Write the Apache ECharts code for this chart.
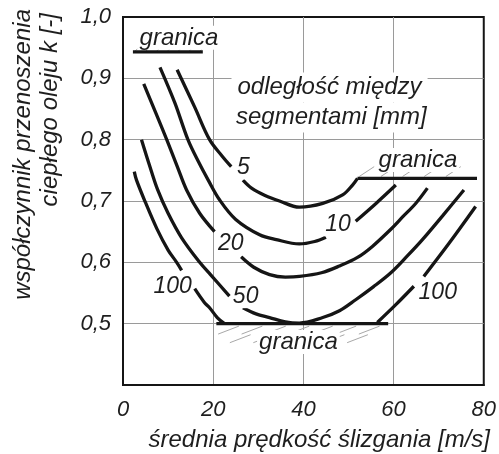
<!DOCTYPE html>
<html>
<head>
<meta charset="utf-8">
<script src="https://cdn.jsdelivr.net/npm/echarts@6/dist/echarts.min.js"></script>
<style>
  html, body { margin: 0; padding: 0; background: #fff; }
  #chart { width: 499px; height: 454px; }
</style>
</head>
<body>
<div id="chart"></div>
<script>
// Heat-transfer coefficient of oil vs. mean sliding speed, per segment spacing
const xTicks = [0, 20, 40, 60, 80];
const yTicks = [0.4, 0.5, 0.6, 0.7, 0.8, 0.9, 1.0];

// Each curve is split into pieces where its label sits in the line
const curve5 = [
  [[12.0, 0.914], [15.9, 0.853], [19.2, 0.800], [22.0, 0.773], [24.0, 0.756]],
  [[26.6, 0.734], [28.5, 0.721], [31.5, 0.709], [34.7, 0.700], [39.1, 0.690], [44.3, 0.696], [48.7, 0.710], [50.9, 0.726], [52.0, 0.737]]
];
const curve10 = [
  [[8.2, 0.918], [11.5, 0.860], [14.4, 0.800], [16.8, 0.763], [18.9, 0.734], [21.4, 0.702], [25.0, 0.670], [30.3, 0.645], [34.0, 0.637], [39.1, 0.630], [42.5, 0.634], [45.0, 0.641]],
  [[51.6, 0.667], [56.1, 0.696], [60.5, 0.726]]
];
const curve20 = [
  [[4.6, 0.891], [7.2, 0.845], [9.7, 0.800], [12.0, 0.757], [14.1, 0.718], [17.0, 0.680], [20.3, 0.650]],
  [[26.2, 0.609], [29.0, 0.592], [32.5, 0.580], [36.0, 0.576], [39.1, 0.577], [44.0, 0.583], [48.0, 0.594], [52.0, 0.608], [55.3, 0.626], [59.4, 0.654], [62.0, 0.674], [64.9, 0.696], [67.5, 0.721]]
];
const curve50 = [
  [[4.1, 0.800], [5.8, 0.760], [7.7, 0.718], [10.0, 0.680], [13.0, 0.640], [17.0, 0.600], [19.4, 0.580], [23.6, 0.545]],
  [[26.6, 0.526], [29.5, 0.516], [32.5, 0.510], [36.0, 0.503], [39.1, 0.501], [44.3, 0.510], [48.0, 0.521], [51.6, 0.539], [55.5, 0.560], [59.4, 0.583], [63.0, 0.610], [66.4, 0.637], [71.0, 0.677], [75.6, 0.718]]
];
const curve100 = [
  [[2.5, 0.748], [3.0, 0.734], [4.9, 0.699], [7.5, 0.655], [10.0, 0.620], [11.9, 0.600], [13.0, 0.587]],
  [[15.9, 0.557], [18.0, 0.535], [19.2, 0.526], [20.9, 0.510], [22.5, 0.500]],
  [[56.4, 0.502], [60.5, 0.531], [64.5, 0.561]],
  [[66.7, 0.577], [72.3, 0.631], [78.2, 0.691]]
];

// Limit lines ("granica")
const limitBottom = [[20.7, 0.5], [58.8, 0.5]];
const limitRight = [[52.0, 0.737], [78.5, 0.737]];
const limitTopLeft = [[2.2, 0.943], [17.7, 0.943]];

// Text placed inside the plot, in data units
const curveLabels = [
  { name: '5', value: [26.7, 0.754] },
  { name: '10', value: [47.7, 0.661] },
  { name: '20', value: [23.9, 0.630] },
  { name: '50', value: [27.2, 0.544] },
  { name: '100', value: [11.0, 0.561] },
  { name: '100', value: [69.8, 0.551] }
];
const limitLabels = [
  { name: 'granica', value: [12.4, 0.966] },
  { name: 'granica', value: [65.4, 0.767] },
  { name: 'granica', value: [38.9, 0.470] }
];
const legendTitle = [
  { name: 'odległość między', value: [45.8, 0.885] },
  { name: 'segmentami [mm]', value: [46.2, 0.836] }
];

const FONT = '"Liberation Sans", Arial, sans-serif';
const INK = '#151515';
const TEXT = '#1e1e1e';

// Thin hatch strokes along a limit line, on one side of it
function hatch(line, step, dx, dy0, dy1) {
  const segs = [];
  const x0 = line[0][0], x1 = line[1][0], y = line[0][1];
  for (let x = x0 + 0.4; x + dx <= x1 + 0.5; x += step) {
    segs.push([[x, y + dy0], [x + dx, y + dy1]]);
  }
  return segs;
}
const hatchBottom = hatch(limitBottom, 5.2, 4.6, -0.017, -0.004)
  .concat(hatch([[limitBottom[0][0] + 2.6, 0.5], limitBottom[1]], 5.2, 4.6, -0.031, -0.018));
const hatchRight = hatch(limitRight, 4.8, 3.3, 0.003, 0.019);
const hatchTopLeft = hatch(limitTopLeft, 2.4, 0.6, 0.001, 0.005);

const series = [];
function addCurve(pieces, width, color, z) {
  pieces.forEach(p => series.push({
    type: 'line', data: p, smooth: 0.35, symbol: 'none', silent: true, z: z,
    lineStyle: { color: color, width: width }
  }));
}
addCurve(curve5, 3.3, INK, 5);
addCurve(curve10, 3.3, INK, 5);
addCurve(curve20, 3.3, INK, 5);
addCurve(curve50, 3.3, INK, 5);
addCurve(curve100, 3.3, INK, 5);
[limitBottom, limitRight, limitTopLeft].forEach(l => series.push({
  type: 'line', data: l, symbol: 'none', silent: true, z: 6,
  lineStyle: { color: INK, width: 3.3 }
}));
hatchBottom.concat(hatchRight, hatchTopLeft).forEach(h => series.push({
  type: 'line', data: h, symbol: 'none', silent: true, z: 3,
  lineStyle: { color: '#a8a8a8', width: 1 }
}));

function textSeries(data, size, padding, z) {
  return {
    type: 'scatter', data: data, symbolSize: 0, silent: true, z: z,
    itemStyle: { opacity: 1 },
    label: {
      show: true, position: 'inside', formatter: p => p.name,
      fontFamily: FONT, fontStyle: 'italic', fontSize: size, color: TEXT,
      backgroundColor: '#fff', padding: padding
    }
  };
}
series.push(textSeries(curveLabels, 23, [0, 1], 7));
series.push(textSeries(limitLabels, 24, [0, 2], 7));
series.push(textSeries(legendTitle, 24, [3, 6], 4));

const chart = echarts.init(document.getElementById('chart'), null, { renderer: 'canvas' });
chart.setOption({
  animation: false,
  backgroundColor: '#fff',
  grid: { left: 123, right: 14, top: 17, bottom: 69, show: true, borderColor: INK, borderWidth: 2, backgroundColor: 'transparent' },
  xAxis: {
    type: 'value', min: xTicks[0], max: xTicks[xTicks.length - 1], interval: 20,
    axisLine: { show: true, lineStyle: { color: INK, width: 2 } },
    axisTick: { show: false },
    axisLabel: { margin: 14, fontFamily: FONT, fontStyle: 'italic', fontSize: 22, color: TEXT },
    splitLine: { show: true, showMinLine: false, showMaxLine: false, lineStyle: { color: '#9a9a9a', width: 1 } }
  },
  yAxis: {
    type: 'value', min: yTicks[0], max: yTicks[yTicks.length - 1], interval: 0.1,
    axisLine: { show: true, lineStyle: { color: INK, width: 2 } },
    axisTick: { show: false },
    axisLabel: {
      margin: 12, fontFamily: FONT, fontStyle: 'italic', fontSize: 22, color: TEXT,
      formatter: v => (Math.abs(v - yTicks[0]) < 1e-6 ? '' : v.toFixed(1).replace('.', ','))
    },
    splitLine: { show: true, showMinLine: false, showMaxLine: false, lineStyle: { color: '#9a9a9a', width: 1 } }
  },
  graphic: [
    {
      type: 'text', x: 490, y: 440,
      style: { text: 'średnia prędkość ślizgania [m/s]', align: 'right', verticalAlign: 'middle',
        font: 'italic 24px ' + FONT, fill: TEXT }
    },
    {
      type: 'text', x: 23, y: 9, rotation: Math.PI / 2,
      style: { text: 'współczynnik przenoszenia', align: 'right', verticalAlign: 'middle',
        font: 'italic 24px ' + FONT, fill: TEXT }
    },
    {
      type: 'text', x: 50, y: 13, rotation: Math.PI / 2,
      style: { text: 'ciepłego oleju k [-]', align: 'right', verticalAlign: 'middle',
        font: 'italic 24px ' + FONT, fill: TEXT }
    }
  ],
  series: series
});
</script>
</body>
</html>
